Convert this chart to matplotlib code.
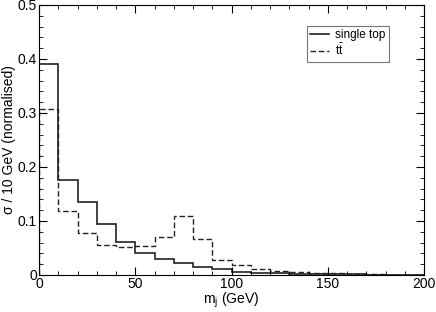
import matplotlib
matplotlib.use("Agg")
import matplotlib.pyplot as plt
import numpy as np

plt.rcParams['font.family'] = ['Liberation Sans', 'DejaVu Sans']

# bin edges in GeV (10 GeV bins)
edges = np.arange(0, 210, 10)

single_top = [0.390, 0.176, 0.136, 0.095, 0.061, 0.040, 0.030, 0.022, 0.014, 0.011,
              0.006, 0.004, 0.003, 0.002, 0.002, 0.0015, 0.001, 0.0008, 0.0003, 0.0002]
ttbar = [0.307, 0.118, 0.077, 0.055, 0.051, 0.053, 0.071, 0.109, 0.067, 0.027,
         0.0185, 0.012, 0.008, 0.005, 0.004, 0.003, 0.002, 0.0015, 0.0005, 0.0003]

fig = plt.figure(figsize=(4.36, 3.12), dpi=100)
ax = fig.add_axes([39 / 436, 37 / 312, 385 / 436, 270 / 312])

ax.stairs(single_top, edges, color='#222222', lw=1.2, ls='-', label='single top')
ax.stairs(ttbar, edges, color='#222222', lw=1.0, ls=(0, (4, 2)), label=r'$\mathregular{t\bar{t}}$')

ax.set_xlim(0, 200)
ax.set_ylim(0, 0.5)
ax.set_xticks([0, 50, 100, 150, 200])
ax.set_xticks(np.arange(0, 201, 10), minor=True)
ax.set_yticks([0, 0.1, 0.2, 0.3, 0.4, 0.5])
ax.set_yticks(np.arange(0, 0.501, 0.02), minor=True)
ax.set_yticklabels(['0', '0.1', '0.2', '0.3', '0.4', '0.5'])
ax.tick_params(which='both', direction='in', top=True, right=True, labelsize=10, pad=1.5)
ax.tick_params(which='major', length=6)
ax.tick_params(which='minor', length=3)

ax.set_xlabel(r'm$_\mathregular{j}$ (GeV)', fontsize=10, labelpad=0)
ax.set_ylabel('σ / 10 GeV (normalised)', fontsize=10, labelpad=1)

leg = ax.legend(loc='upper left', bbox_to_anchor=(0.68, 0.945), fontsize=8.5,
                frameon=True, fancybox=False, edgecolor='#555555',
                handlelength=1.6, borderpad=0.3, labelspacing=0.15, handletextpad=0.5)
leg.get_frame().set_linewidth(0.8)

fig.savefig('out.png', dpi=100)
